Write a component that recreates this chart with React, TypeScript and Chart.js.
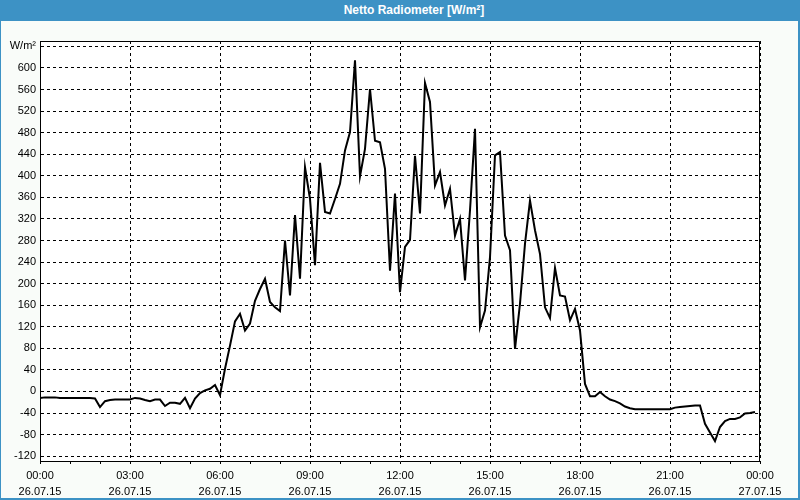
import { useEffect, useRef } from 'react';
import { Chart, registerables } from 'chart.js';

Chart.register(...registerables);

const TITLE = 'Netto Radiometer [W/m²]';
const UNIT_LABEL = 'W/m²';
const HOUR_LABELS = ['00:00', '03:00', '06:00', '09:00', '12:00', '15:00', '18:00', '21:00', '00:00'];
const DATE_LABELS = ['26.07.15', '26.07.15', '26.07.15', '26.07.15', '26.07.15', '26.07.15', '26.07.15', '26.07.15', '27.07.15'];
const Y_TICKS = [-120, -80, -40, 0, 40, 80, 120, 160, 200, 240, 280, 320, 360, 400, 440, 480, 520, 560, 600, 640];
const SAMPLE_MINUTES = 10;

// Net radiation [W/m²], one value every 10 minutes from 00:00 to 23:50
const NET_RADIATION = [
  -12, -11, -11, -11, -12, -12, -12, -12, -12, -12, -12, -13,
  -29, -18, -16, -15, -15, -15, -15, -12, -13, -16, -18, -15,
  -15, -27, -21, -21, -23, -12, -31, -13, -3, 2, 5, 12,
  -7, 42, 85, 130, 144, 113, 126, 168, 190, 209, 166, 156,
  149, 280, 178, 327, 209, 416, 357, 234, 424, 333, 330, 357,
  385, 447, 481, 614, 399, 450, 561, 465, 462, 413, 224, 367,
  184, 268, 281, 437, 330, 572, 537, 382, 407, 345, 376, 289,
  320, 206, 336, 487, 119, 150, 249, 438, 444, 289, 262, 79,
  163, 274, 354, 299, 255, 156, 136, 229, 178, 176, 132, 153,
  113, 14, -9, -9, -1, -9, -15, -18, -22, -28, -31, -33,
  -33, -33, -33, -33, -33, -33, -33, -30, -29, -28, -27, -26,
  -26, -60, -76, -92, -66, -55, -51, -51, -48, -41, -40, -38,
];

const FONT = { family: '"Liberation Sans", Arial, sans-serif', size: 11 };
const X_FONT = { family: '"Liberation Sans", Arial, sans-serif', size: 11, lineHeight: 1.45 };

const framePlugin = {
  id: 'frame',
  beforeDraw(chart: any) {
    const { ctx, chartArea } = chart;
    const { left, top, right, bottom } = chartArea;
    ctx.save();
    ctx.fillStyle = '#ffffff';
    ctx.fillRect(left, top, right - left, bottom - top);
    ctx.restore();
  },
  afterDraw(chart: any) {
    const { ctx, chartArea } = chart;
    const l = Math.round(chartArea.left) + 0.5;
    const t = Math.round(chartArea.top) + 0.5;
    const r = Math.round(chartArea.right) - 0.5;
    ctx.save();
    ctx.strokeStyle = '#000';
    ctx.lineWidth = 1;
    ctx.setLineDash([]);
    ctx.beginPath();
    ctx.moveTo(l, t);
    ctx.lineTo(r, t);
    ctx.moveTo(r, t);
    ctx.lineTo(r, Math.round(chartArea.bottom));
    ctx.stroke();
    ctx.restore();
  },
};

export default function App() {
  const canvasRef = useRef<HTMLCanvasElement | null>(null);

  useEffect(() => {
    document.body.style.margin = '0';
    const canvas = canvasRef.current;
    if (!canvas) return;
    const points = NET_RADIATION.map((v, i) => ({ x: (i * SAMPLE_MINUTES) / 60, y: v }));
    const chart = new Chart(canvas, {
      type: 'line',
      data: {
        datasets: [
          {
            label: TITLE,
            data: points,
            borderColor: '#000',
            borderWidth: 2,
            pointRadius: 0,
            tension: 0,
            fill: false,
          },
        ],
      },
      options: {
        animation: false,
        responsive: false,
        maintainAspectRatio: false,
        layout: { padding: { left: 0, top: 20, right: 38, bottom: 0 } },
        plugins: { legend: { display: false }, tooltip: { enabled: false }, title: { display: false } },
        scales: {
          x: {
            type: 'linear',
            min: 0,
            max: 24,
            afterBuildTicks: (scale: any) => {
              const t = [];
              for (let h = 0; h <= 24; h++) t.push({ value: h });
              scale.ticks = t;
            },
            afterFit: (scale: any) => {
              scale.height = 37;
            },
            grid: {
              color: (c: any) => (c.tick && c.tick.value % 3 === 0 ? '#000' : 'rgba(0,0,0,0)'),
              lineWidth: 1,
              drawTicks: true,
              tickLength: 3,
              tickColor: '#000',
              tickBorderDash: [],
            },
            border: { display: true, color: '#000', width: 1, dash: [3, 3] },
            ticks: {
              autoSkip: false,
              maxRotation: 0,
              padding: 4,
              color: '#000',
              font: X_FONT,
              callback: (value: any) => {
                const v = Number(value);
                if (v % 3 !== 0) return '';
                const k = v / 3;
                return [HOUR_LABELS[k], DATE_LABELS[k]];
              },
            },
          },
          y: {
            type: 'linear',
            min: -129,
            max: 650,
            afterBuildTicks: (scale: any) => {
              scale.ticks = Y_TICKS.map((v) => ({ value: v }));
            },
            afterFit: (scale: any) => {
              scale.width = 39;
            },
            grid: {
              color: '#000',
              lineWidth: 1,
              drawTicks: false,
            },
            border: { display: true, color: '#000', width: 1, dash: [3, 3] },
            ticks: {
              padding: 4,
              color: '#000',
              font: FONT,
              callback: (value: any) => (Number(value) === 640 ? UNIT_LABEL : String(value)),
            },
          },
        },
      },
      plugins: [framePlugin],
    });
    return () => chart.destroy();
  }, []);

  return (
    <div
      style={{
        position: 'fixed',
        left: 0,
        top: 0,
        width: 800,
        height: 500,
        background: '#3d92c5',
        overflow: 'hidden',
      }}
    >
      <div
        style={{
          position: 'absolute',
          left: 0,
          top: 0,
          width: 800,
          height: 21,
          lineHeight: '20px',
          textAlign: 'center',
          paddingLeft: 28,
          boxSizing: 'border-box',
          color: '#fff',
          fontFamily: '"Liberation Sans", Arial, sans-serif',
          fontWeight: 'bold',
          fontSize: 12,
        }}
      >
        {TITLE}
      </div>
      <div
        style={{
          position: 'absolute',
          left: 1,
          top: 21,
          width: 797,
          height: 477,
          background: '#f9fcf9',
        }}
      >
        <canvas ref={canvasRef} width={797} height={477} style={{ display: 'block', width: 797, height: 477 }} />
      </div>
    </div>
  );
}
